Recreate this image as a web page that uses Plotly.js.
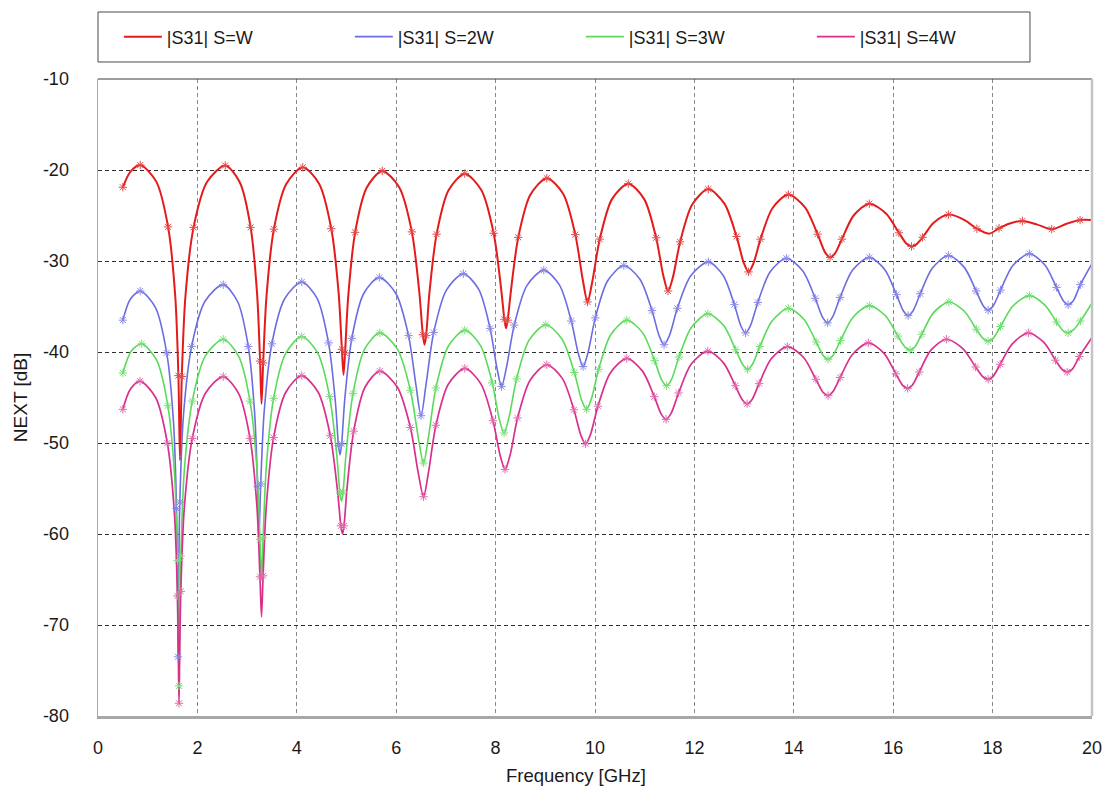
<!DOCTYPE html>
<html>
<head>
<meta charset="utf-8">
<script src="https://cdn.plot.ly/plotly-3.0.1.min.js"></script>
<style>
  html, body { margin: 0; padding: 0; background: #ffffff; }
  #chart { width: 1112px; height: 792px; }
</style>
</head>
<body>
<div id="chart"></div>
<script>
// Near-end crosstalk |S31| of coupled lines for four spacings (S = W ... 4W)

const seriesNames = ['|S31| S=W', '|S31| S=2W', '|S31| S=3W', '|S31| S=4W'];

const xTickVals = [0, 2, 4, 6, 8, 10, 12, 14, 16, 18, 20];
const xTickText = ['0', '2', '4', '6', '8', '10', '12', '14', '16', '18', '20'];
const yTickVals = [-80, -70, -60, -50, -40, -30, -20, -10];
const yTickText = ['-80', '-70', '-60', '-50', '-40', '-30', '-20', '-10'];

// S = W
const freqW = [
  0.5, 0.65, 0.85, 1.17, 1.41, 1.554, 1.618, 1.65, 1.686, 1.759, 1.923, 2.196, 2.56,
  2.852, 3.071, 3.202, 3.261, 3.29, 3.323, 3.39, 3.539, 3.788, 4.12,
  4.448, 4.694, 4.842, 4.907, 4.94, 4.971, 5.034, 5.174, 5.408, 5.72,
  6.06, 6.315, 6.468, 6.536, 6.57, 6.602, 6.667, 6.813, 7.056, 7.38,
  7.712, 7.961, 8.11, 8.177, 8.21, 8.243, 8.308, 8.456, 8.702, 9.03,
  9.358, 9.604, 9.752, 9.85, 9.948, 10.096, 10.342, 10.67,
  10.99, 11.23, 11.374, 11.47, 11.567, 11.713, 11.956, 12.28,
  12.604, 12.847, 12.993, 13.09, 13.186, 13.33, 13.57, 13.89,
  14.226, 14.478, 14.629, 14.73, 14.825, 14.967, 15.204, 15.52,
  15.86, 16.115, 16.268, 16.37, 16.459, 16.592, 16.814, 17.11,
  17.438, 17.684, 17.93, 18.13, 18.33, 18.6, 18.9, 19.19, 19.49, 19.76, 20
];
const nextW = [
  -21.9, -20.2, -19.45, -21.25, -26.25, -33.85, -42.6, -51.9, -42.7, -33.9, -26.3, -21.3, -19.5,
  -21.35, -26.3, -33.7, -41.0, -45.7, -41.2, -33.9, -26.5, -21.55, -19.7,
  -21.5, -26.45, -33.55, -39.7, -42.5, -40.1, -33.95, -26.85, -21.93, -20.1,
  -21.9, -26.8, -33.6, -38.1, -39.2, -38.2, -33.6, -27.05, -22.2, -20.4,
  -22.2, -26.95, -33.0, -36.4, -37.4, -36.5, -33.3, -27.4, -22.7, -20.9,
  -22.6, -27.1, -32.0, -34.5, -32.2, -27.6, -23.2, -21.5,
  -23.2, -27.45, -31.6, -33.3, -31.8, -27.9, -23.8, -22.1,
  -23.7, -27.3, -30.2, -31.2, -30.3, -27.6, -24.2, -22.7,
  -24.1, -27.05, -29.05, -29.6, -29.2, -27.6, -25.0, -23.7,
  -24.8, -26.9, -28.1, -28.4, -28.2, -27.4, -25.8, -24.9,
  -25.5, -26.45, -27.0, -26.4, -25.9, -25.6, -26.0, -26.5, -25.9, -25.5, -25.5
];

// S = 2W
const freq2W = [
  0.5, 0.65, 0.85, 1.154, 1.382, 1.519, 1.58, 1.599, 1.61, 1.624, 1.646, 1.719, 1.883, 2.156, 2.52,
  2.808, 3.024, 3.154, 3.211, 3.24, 3.274, 3.343, 3.498, 3.756, 4.1,
  4.408, 4.639, 4.778, 4.839, 4.87, 4.902, 4.965, 5.107, 5.344, 5.66,
  5.996, 6.248, 6.399, 6.5, 6.602, 6.755, 7.01, 7.35,
  7.658, 7.889, 8.028, 8.12, 8.222, 8.375, 8.63, 8.97,
  9.286, 9.523, 9.665, 9.76, 9.858, 10.006, 10.252, 10.58,
  10.904, 11.147, 11.293, 11.39, 11.497, 11.657, 11.924, 12.28,
  12.58, 12.805, 12.94, 13.03, 13.128, 13.276, 13.522, 13.85,
  14.182, 14.431, 14.58, 14.68, 14.781, 14.932, 15.184, 15.52,
  15.832, 16.066, 16.206, 16.3, 16.397, 16.543, 16.786, 17.11,
  17.43, 17.67, 17.814, 17.91, 18.01, 18.159, 18.408, 18.74,
  19.052, 19.286, 19.426, 19.52, 19.62, 19.766, 20
];
const next2W = [
  -36.5, -34.2, -33.3, -35.1, -40.1, -47.7, -57.2, -65.1, -73.5, -64.4, -56.5, -47.0, -39.4, -34.4, -32.6,
  -34.45, -39.4, -46.9, -54.8, -59.9, -54.5, -46.6, -39.1, -34.15, -32.3,
  -34.1, -39.0, -45.6, -50.3, -51.3, -50.1, -45.2, -38.5, -33.6, -31.8,
  -33.6, -38.2, -43.7, -47.0, -43.5, -37.85, -33.2, -31.4,
  -33.1, -37.4, -41.8, -43.8, -41.6, -37.05, -32.7, -31.0,
  -32.65, -36.6, -40.2, -41.6, -40.1, -36.25, -32.2, -30.5,
  -32.0, -35.45, -38.25, -39.2, -38.2, -35.2, -31.65, -30.1,
  -31.6, -34.8, -37.2, -37.9, -37.1, -34.55, -31.2, -29.7,
  -31.1, -34.1, -36.2, -36.8, -36.15, -34.0, -31.0, -29.6,
  -30.95, -33.7, -35.5, -36.0, -35.5, -33.6, -30.8, -29.4,
  -30.7, -33.3, -34.95, -35.4, -34.95, -33.2, -30.5, -29.2,
  -30.45, -32.9, -34.4, -34.8, -34.4, -32.6, -30.3
];

// S = 3W
const freq3W = [
  0.5, 0.67, 0.88, 1.18, 1.405, 1.54, 1.6, 1.619, 1.63, 1.643, 1.666, 1.737, 1.897, 2.164, 2.52,
  2.828, 3.059, 3.198, 3.259, 3.29, 3.322, 3.387, 3.533, 3.776, 4.1,
  4.42, 4.66, 4.804, 4.868, 4.9, 4.931, 4.992, 5.131, 5.362, 5.67,
  6.022, 6.286, 6.444, 6.55, 6.65, 6.799, 7.048, 7.38,
  7.696, 7.933, 8.075, 8.17, 8.271, 8.422, 8.674, 9.01,
  9.338, 9.584, 9.732, 9.83, 9.927, 10.073, 10.316, 10.64,
  10.96, 11.2, 11.344, 11.44, 11.54, 11.689, 11.938, 12.27,
  12.59, 12.83, 12.974, 13.07, 13.168, 13.316, 13.562, 13.89,
  14.21, 14.45, 14.594, 14.69, 14.79, 14.939, 15.188, 15.52,
  15.848, 16.094, 16.242, 16.34, 16.434, 16.574, 16.808, 17.12,
  17.436, 17.673, 17.815, 17.91, 18.01, 18.159, 18.408, 18.74,
  19.052, 19.286, 19.426, 19.52, 19.62, 19.766, 20
];
const next3W = [
  -42.3, -39.9, -39.1, -40.9, -45.9, -53.5, -62.9, -70.5, -76.7, -70.0, -62.4, -53.0, -45.4, -40.4, -38.6,
  -40.45, -45.4, -52.9, -60.6, -65.1, -60.4, -52.6, -45.1, -40.15, -38.3,
  -40.1, -44.9, -51.3, -55.5, -56.4, -55.4, -51.1, -44.55, -39.7, -37.9,
  -39.65, -44.2, -49.4, -52.2, -49.3, -43.95, -39.37, -37.6,
  -39.3, -43.4, -47.4, -48.9, -47.15, -42.95, -38.7, -37.0,
  -38.6, -42.25, -45.3, -46.3, -45.15, -41.9, -38.1, -36.5,
  -37.9, -40.95, -43.1, -43.7, -43.0, -40.55, -37.3, -35.8,
  -37.1, -39.75, -41.4, -41.9, -41.35, -39.4, -36.6, -35.2,
  -36.45, -38.9, -40.4, -40.8, -40.35, -38.75, -36.2, -34.9,
  -36.05, -38.25, -39.5, -39.8, -39.45, -38.05, -35.7, -34.5,
  -35.55, -37.5, -38.55, -38.8, -38.5, -37.2, -34.95, -33.8,
  -34.85, -36.7, -37.7, -37.9, -37.6, -36.6, -34.6
];

// S = 4W
const freq4W = [
  0.5, 0.65, 0.845, 1.159, 1.395, 1.536, 1.599, 1.618, 1.63, 1.643, 1.666, 1.737, 1.897, 2.164, 2.52,
  2.828, 3.059, 3.198, 3.259, 3.29, 3.322, 3.387, 3.533, 3.776, 4.1,
  4.428, 4.674, 4.822, 4.887, 4.92, 4.95, 5.01, 5.145, 5.37, 5.67,
  6.022, 6.286, 6.444, 6.55, 6.65, 6.799, 7.048, 7.38,
  7.704, 7.947, 8.093, 8.19, 8.291, 8.442, 8.694, 9.03,
  9.342, 9.576, 9.716, 9.81, 9.91, 10.059, 10.308, 10.64,
  10.956, 11.193, 11.335, 11.43, 11.531, 11.682, 11.934, 12.27,
  12.586, 12.823, 12.965, 13.06, 13.157, 13.303, 13.546, 13.87,
  14.198, 14.444, 14.592, 14.69, 14.787, 14.933, 15.176, 15.5,
  15.816, 16.053, 16.195, 16.29, 16.384, 16.524, 16.758, 17.07,
  17.406, 17.658, 17.809, 17.91, 18.007, 18.153, 18.396, 18.72,
  19.032, 19.266, 19.406, 19.5, 19.6, 19.746, 20
];
const next4W = [
  -46.3, -44.1, -43.2, -45.0, -50.0, -57.6, -66.8, -73.9, -78.6, -73.5, -66.3, -57.1, -49.5, -44.5, -42.7,
  -44.55, -49.5, -57.0, -64.7, -69.1, -64.6, -56.9, -49.4, -44.45, -42.6,
  -44.4, -49.2, -55.4, -59.1, -60.0, -59.1, -55.0, -48.7, -43.9, -42.1,
  -43.85, -48.3, -53.3, -55.9, -53.2, -48.05, -43.55, -41.8,
  -43.5, -47.55, -51.4, -52.9, -51.35, -47.25, -43.1, -41.4,
  -42.9, -46.35, -49.15, -50.1, -49.05, -45.95, -42.3, -40.7,
  -42.1, -44.9, -46.85, -47.4, -46.75, -44.5, -41.35, -39.9,
  -41.2, -43.7, -45.25, -45.7, -45.25, -43.45, -40.75, -39.4,
  -40.6, -43.0, -44.45, -44.8, -44.35, -42.8, -40.3, -39.0,
  -40.15, -42.4, -43.7, -44.0, -43.65, -42.2, -39.8, -38.6,
  -39.65, -41.65, -42.75, -43.0, -42.7, -41.35, -39.1, -37.9,
  -38.95, -40.9, -41.95, -42.2, -41.9, -40.5, -38.4
];

const freqs = [freqW, freq2W, freq3W, freq4W];
const values = [nextW, next2W, next3W, next4W];
const lineColors = ['#e41b1b', '#6c6ce2', '#5ada5a', '#d8308c'];
const markColors = ['#e24a4a', '#8a8ae6', '#7ade7a', '#e06aac'];
const lineWidths = [2, 1.6, 1.6, 1.7];

const traces = [];
// Curves (these carry the legend entries)
for (let i = 0; i < 4; i++) {
  traces.push({
    type: 'scatter', mode: 'lines', name: seriesNames[i],
    x: freqs[i], y: values[i],
    line: { color: lineColors[i], width: lineWidths[i], shape: 'spline', smoothing: 0.8 },
    hoverinfo: 'skip'
  });
}
// Sample markers on every other point of each curve
for (let i = 0; i < 4; i++) {
  const keep = (_, k) => k % 2 === 0;
  traces.push({
    type: 'scatter', mode: 'markers', showlegend: false,
    x: freqs[i].filter(keep), y: values[i].filter(keep),
    marker: { symbol: 'asterisk-open', size: 7, color: markColors[i],
              line: { width: 1, color: markColors[i] } },
    hoverinfo: 'skip'
  });
}

const layout = {
  width: 1112, height: 792,
  margin: { l: 98, r: 20, t: 79, b: 76, autoexpand: false },
  paper_bgcolor: '#ffffff', plot_bgcolor: '#ffffff',
  font: { family: 'Liberation Sans, Arial, sans-serif', size: 18, color: '#1a1a1a' },
  showlegend: true,
  legend: {
    orientation: 'h', x: 0.021, xanchor: 'left', y: 1.066, yanchor: 'middle',
    itemwidth: 38, entrywidth: 178, entrywidthmode: 'pixels',
    font: { size: 18, color: '#1a1a1a' }, bgcolor: 'rgba(0,0,0,0)', borderwidth: 0
  },
  xaxis: {
    range: [0, 20], tickmode: 'array', tickvals: xTickVals, ticktext: xTickText,
    ticks: '', ticklabelstandoff: 14,
    showgrid: true, gridcolor: '#8a8a8a', gridwidth: 1, griddash: '4px,3px',
    showline: true, linecolor: '#a8a8a8', linewidth: 2.5, zeroline: false
  },
  yaxis: {
    range: [-80, -10], tickmode: 'array', tickvals: yTickVals, ticktext: yTickText,
    ticks: '', ticklabelstandoff: 24,
    showgrid: true, gridcolor: '#2e2e2e', gridwidth: 1, griddash: '4px,3px',
    showline: true, linecolor: '#a8a8a8', linewidth: 1.5, zeroline: false,
    title: { text: 'NEXT [dB]', font: { size: 19 }, standoff: 10 }
  },
  annotations: [
    // frequency axis caption, set slightly left of the plot centre
    { xref: 'paper', yref: 'paper', x: 0.481, y: -0.094, xanchor: 'center', yanchor: 'middle',
      showarrow: false, text: 'Frequency [GHz]', font: { size: 18.5, color: '#1a1a1a' } }
  ],
  shapes: [
    // legend frame
    { type: 'rect', xref: 'paper', yref: 'paper', x0: 0, x1: 0.9376, y0: 1.0267, y1: 1.1052,
      line: { color: '#4a4a4a', width: 1 }, fillcolor: 'rgba(0,0,0,0)' },
    // top frame edge
    { type: 'line', xref: 'paper', yref: 'paper', x0: 0, x1: 1, y0: 1, y1: 1,
      line: { color: '#3a3a3a', width: 1 } },
    // right frame edge
    { type: 'line', xref: 'paper', yref: 'paper', x0: 1, x1: 1, y0: 0, y1: 1,
      line: { color: '#c4c4c4', width: 2.5 } }
  ]
};

Plotly.newPlot('chart', traces, layout, { displayModeBar: false, staticPlot: true });
</script>
</body>
</html>
